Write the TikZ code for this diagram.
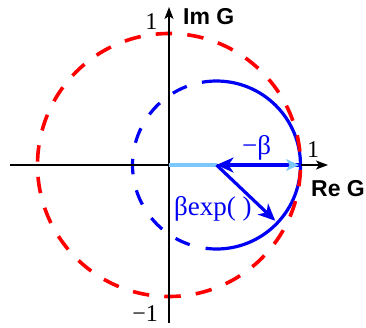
\documentclass[tikz,border=0pt]{standalone}
\usepackage{fontspec}
\setmainfont{Liberation Serif}
\setsansfont{Liberation Sans}
\usetikzlibrary{arrows.meta,calc}
\definecolor{lblue}{RGB}{125,200,250}
\definecolor{dblue}{RGB}{0,0,245}
\begin{document}
\begin{tikzpicture}[x=1pt,y=1pt,
  axis/.style={black, line width=1.6pt, -{Stealth[length=12pt,width=9pt,inset=3pt]}},
  redc/.style={red, line width=3.6pt, dash pattern=on 16.5pt off 15.16pt, dash phase=18.2pt},
  bluedash/.style={dblue, line width=3.2pt, dash pattern=on 15.5pt off 16.3pt, dash phase=16.1pt},
  bluesolid/.style={dblue, line width=3.2pt},
  vec/.style={dblue, line width=3.2pt, -{Stealth[length=17pt,width=15pt,inset=5pt]}},
  slbl/.style={font=\fontsize{24}{26}\selectfont, inner sep=0pt},
  blbl/.style={font=\fontsize{27}{29}\selectfont, inner sep=0pt, text=dblue},
  axl/.style={font=\fontsize{23}{25}\selectfont\sffamily\bfseries, inner sep=0pt}]
\useasboundingbox (0,0) rectangle (366,327);
\coordinate (O) at (169,162);
\coordinate (C) at (216.5,162);
\coordinate (P1) at (300.5,162);
\coordinate (xl) at (10,162);
\coordinate (xr) at (328,162);
\coordinate (yb) at (169,4);
\coordinate (yt) at (169,320);
\coordinate (E) at ($(C)+(-43.5:81)$);
% blue circle
\draw[bluedash] ($(C)+(100:84)$) arc[start angle=100, end angle=264, radius=84];
\draw[bluesolid] ($(C)+(-96.7:84)$) arc[start angle=-96.7, end angle=100, radius=84];
% red unit circle
\draw[redc] (O) circle[radius=131.5];
% axes
\draw[axis] (xl) -- (xr);
\draw[axis] (yb) -- (yt);
% vectors
\draw[lblue, line width=3.6pt] (O) -- (C);
\draw[vec] (P1) -- (C);
\fill[lblue] ($(P1)+(-1.5,0)$) -- ++(-13,6) -- ++(3.5,-6) -- ++(-3.5,-6) -- cycle;
\draw[vec] (C) -- (E);
% labels
\node[slbl, anchor=base east] (l1t) at (157.5,297) {1};
\node[axl, anchor=base west] (lim) at (183,302) {Im G};
\node[slbl, anchor=base west] (l1r) at (307,170) {1};
\node[axl, anchor=base west] (lre) at (311,131) {Re G};
\node[slbl, anchor=base east] (lm1) at (158,6) {−1};
\node[blbl, anchor=base] (lb) at (256.5,173) {−β};
\node[blbl, anchor=base west] (lbe) at (174,112) {βexp( )};
\end{tikzpicture}
\end{document}
